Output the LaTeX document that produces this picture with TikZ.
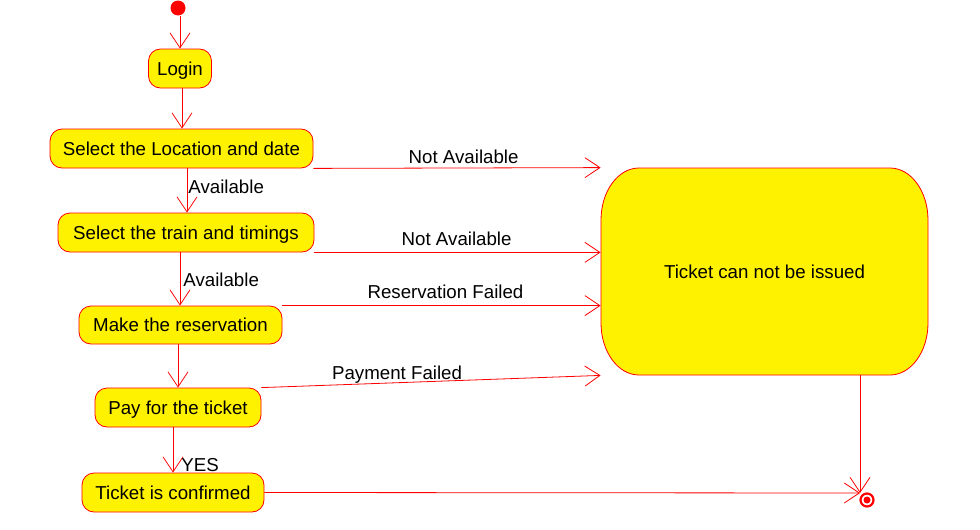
\documentclass[tikz,border=0pt]{standalone}
\usepackage{fontspec}
\setmainfont{Liberation Sans}
\usetikzlibrary{arrows.meta}
\begin{document}
\begin{tikzpicture}[x=1pt,y=-1pt,
 line width=0.8pt,
 every node/.style={font=\fontsize{18.7}{22}\selectfont},
 act/.style={draw=red, fill=yellow, rounded corners=12pt, minimum height=39pt, text height=17pt, text depth=4pt, inner sep=0pt},
 arr/.style={draw=red, -{Straight Barb[length=15pt,width=20pt]}},
 lab/.style={inner sep=0pt}]
\useasboundingbox (0,0) rectangle (980,530);
% big state shape
\draw[red, fill=yellow] (601,220) .. controls (601,191.3) and (618,168) .. (639,168)
 -- (890,168) .. controls (911,168) and (928,191.3) .. (928,220)
 -- (928,323) .. controls (928,351.7) and (911,375) .. (890,375)
 -- (639,375) .. controls (618,375) and (601,351.7) .. (601,323) -- cycle;
\node[minimum width=327pt, minimum height=207pt, inner sep=0pt, text height=17pt, text depth=4pt] (big) at (764.5,271.5) {Ticket can not be issued};

\node[circle, fill=red, minimum size=15pt, inner sep=0pt] (start) at (178,8) {};
\node[act, minimum width=63pt] (login) at (180,68.5) {Login};
\node[act, minimum width=263pt] (loc) at (181.5,148.5) {Select the Location and date};
\node[act, minimum width=256pt] (train) at (186,232.5) {Select the train and timings};
\node[act, minimum width=203pt, minimum height=38pt] (res) at (180.5,325) {Make the reservation};
\node[act, minimum width=166pt] (pay) at (178,407.5) {Pay for the ticket};
\node[act, minimum width=182pt] (conf) at (173,492.5) {Ticket is confirmed};
\node[circle, draw=red, line width=2.2pt, minimum size=13pt, inner sep=0pt] (final) at (867,500) {};
\node[circle, fill=red, minimum size=7pt, inner sep=0pt] (finaldot) at (final.center) {};

\coordinate (xa) at (182,0);
\coordinate (xb) at (187,0);
\coordinate (xc) at (180,0);
\coordinate (xd) at (178,0);
\coordinate (xe) at (173,0);
\coordinate (fin) at (860,493);

\draw[arr] (start.south -| login.north) -- (login.north);
\draw[arr] (login.south -| xa) -- (loc.north -| xa);
\draw[arr] (loc.south -| xb) -- node[lab, pos=0.578, anchor=base west, xshift=1pt]{Available} (train.north -| xb);
\draw[arr] (train.south -| xc) -- node[lab, pos=0.648, anchor=base west, xshift=3pt]{Available} (res.north -| xc);
\draw[arr] (res.south -| xd) -- (pay.north -| xd);
\draw[arr] (pay.south -| xe) -- node[lab, pos=0.978, anchor=base west, xshift=8pt]{YES} (conf.north -| xe);

\draw[arr] (loc.south east) -- node[lab, pos=0.523, anchor=base, yshift=4pt]{Not Available} (big.north west);
\draw[arr] (train.south east) -- node[lab, pos=0.497, anchor=base, yshift=7pt]{Not Available} (big.west |- train.south east);
\draw[arr] (res.north east) -- node[lab, pos=0.5125, anchor=base, yshift=7pt]{Reservation Failed} (big.west |- res.north east);
\draw[arr] (pay.north east) -- node[lab, pos=0.40, anchor=base, yshift=3pt]{Payment Failed} (big.south west);
\draw[arr] (conf.east) -- (fin);
\draw[arr] (big.south -| fin) -- (fin);
\end{tikzpicture}
\end{document}
